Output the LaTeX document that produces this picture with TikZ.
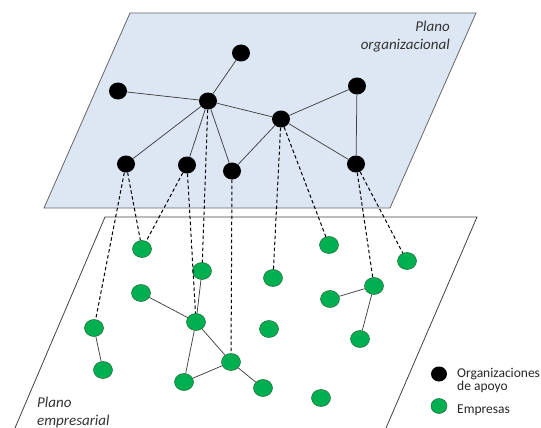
\documentclass[tikz,border=0pt]{standalone}
\usepackage{fontspec}
\setmainfont{Carlito}
\usetikzlibrary{shapes.geometric}
\definecolor{planoazul}{RGB}{221,231,244}
\definecolor{verde}{RGB}{0,176,80}
\definecolor{verdeborde}{RGB}{30,100,55}
\tikzset{
  org/.style={ellipse,fill=black,minimum width=18pt,minimum height=17pt,inner sep=0pt},
  emp/.style={ellipse,fill=verde,draw=verdeborde,line width=0.5pt,minimum width=19pt,minimum height=17pt,inner sep=0pt},
  enlace/.style={draw=black!75,line width=0.75pt},
  vinculo/.style={draw=black,line width=1pt,dash pattern=on 3.5pt off 2.5pt},
  rotulo/.style={font=\fontsize{15}{18}\selectfont\itshape,text=black!80,inner sep=0pt},
  leyenda/.style={font=\fontsize{13.5}{14}\selectfont,text=black!85,inner sep=0pt}
}
\begin{document}
\begin{tikzpicture}[x=1pt,y=-1pt]
     		\useasboundingbox (0,0) rectangle (541,428);
     		% planos
     		\draw[fill=planoazul,draw=black!60,line width=0.8pt] (130,13) -- (476,13) -- (390,208) -- (44,208) -- cycle;
     		\draw[draw=black!75,line width=0.8pt] (15,428) -- (105,217) -- (477,217) -- (386,428);

     		% organizaciones de apoyo
     		\foreach \n/\x/\y in {n1/241/53,n2/118/91,n3/208/101,n4/357/86,n5/281/119,n6/126/164,n7/187/165,n8/232/171,n9/356/164}
     		  {\node[org] (\n) at (\x,\y) {};}
     		% empresas
     		\foreach \n/\x/\y in {g1/142/249,g2/202/271,g3/273/278,g4/329/245,g5/407/261,g6/141/293,g7/374/286,g8/330/299,g9/94/328,g10/196/322,g11/269/329,g12/360/339,g13/103/370,g14/231/362,g15/184/382,g16/263/388,g17/321/398}
     		  {\node[emp] (\n) at (\x,\y) {};}

     		\foreach \a/\b in {n1/n3,n2/n3,n3/n5,n3/n6,n3/n7,n3/n8,n5/n4,n5/n9,n4/n9,n5/n8}
     		  {\draw[enlace] (\a) -- (\b);}
     		\foreach \a/\b in {g6/g10,g2/g10,g10/g14,g10/g15,g15/g14,g14/g16,g9/g13,g8/g7,g7/g12}
     		  {\draw[enlace] (\a) -- (\b);}
     		\foreach \a/\b in {n6/g9,n6/g1,n7/g1,n7/g10,n3/g2,n8/g14,n5/g3,n5/g4,n9/g7,n9/g5}
     		  {\draw[vinculo] (\a) -- (\b);}

     		\node[rotulo,anchor=base east] (orgA) at (450,32) {Plano};
     		\node[rotulo,anchor=base east] (orgB) at (450,50) {organizacional};
     		\node[rotulo,anchor=base west] (empA) at (37,407) {Plano};
     		\node[rotulo,anchor=base west] (empB) at (37,425) {empresarial};

     		% leyenda
     		\node[org,minimum width=16pt,minimum height=15pt] (leyorg) at (439,374) {};
     		\node[emp,minimum width=16pt,minimum height=15pt] (leyemp) at (439,406) {};
     		\node[leyenda,anchor=base west] (leyorgA) at (457,377) {Organizaciones};
     		\node[leyenda,anchor=base west] (leyorgB) at (457,390) {de apoyo};
     		\node[leyenda,anchor=base west] (leyempA) at (457,413) {Empresas};
		\end{tikzpicture}
\end{document}
